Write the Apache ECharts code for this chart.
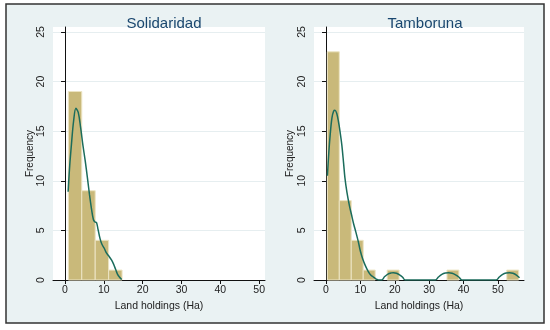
<!DOCTYPE html>
<html>
<head>
<meta charset="utf-8">
<script src="https://cdn.jsdelivr.net/npm/echarts@6/dist/echarts.min.js"></script>
<style>
html,body{margin:0;padding:0;background:#ffffff;}
#c{width:550px;height:330px;}
</style>
</head>
<body>
<div id="c"></div>
<script>
// ---- data ----
const panelTitles = ['Solidaridad', 'Tamboruna'];
const xTicks = [0, 10, 20, 30, 40, 50];
const yTicks = [0, 5, 10, 15, 20, 25];

const solEdges = [0.85, 4.31, 7.77, 11.23, 14.69];
const solCounts = [19, 9, 4, 1];

const tamEdges = [0.38, 3.86, 7.34, 10.82, 14.30, 17.78, 21.26, 24.74, 28.22, 31.70, 35.18, 38.66, 42.14, 45.62, 49.10, 52.58, 56.06];
const tamCounts = [23, 8, 4, 1, 0, 1, 0, 0, 0, 0, 1, 0, 0, 0, 0, 1];

const solDensity = [[0.8,8.9],[1.2,11.5],[1.7,13.9],[2.2,16.0],[2.8,17.3],[3.4,16.9],[4.0,15.4],[4.6,13.6],[5.2,12.0],[5.8,10.2],[6.3,8.6],[6.8,7.2],[7.3,6.1],[7.7,5.85],[8.1,5.8],[8.5,5.1],[9.0,4.2],[9.5,3.6],[10.1,3.2],[10.7,2.7],[11.4,2.35],[12.0,2.0],[12.5,1.6],[13.0,1.1],[13.5,0.6],[14.0,0.3],[14.6,0.05]];

const tamDensity = [[0.4,10.5],[0.8,12.8],[1.2,14.6],[1.7,16.3],[2.2,17.0],[2.6,17.1],[3.1,16.8],[3.6,16.0],[4.1,14.9],[4.6,13.6],[5.1,11.8],[5.5,10.3],[6.1,8.8],[6.8,7.5],[7.4,6.6],[8.0,5.7],[8.7,4.8],[9.4,3.85],[10.0,2.9],[10.7,2.1],[11.5,1.4],[12.3,0.85],[13.0,0.5],[13.8,0.3],[14.5,0.12],[15.3,0],[16.2,0],[17.0,0.32],[18.0,0.6],[19.0,0.72],[19.6,0.74],[20.5,0.68],[21.5,0.5],[22.3,0.28],[23.0,0],[31.8,0],[32.7,0.3],[33.7,0.56],[34.7,0.7],[35.7,0.74],[36.7,0.68],[37.7,0.52],[38.7,0.28],[39.6,0],[49.5,0],[50.4,0.3],[51.4,0.56],[52.4,0.7],[53.4,0.74],[54.4,0.68],[55.4,0.5],[56.3,0.22]];

// ---- build ----
function bins(edges, counts) {
  const out = [];
  for (let i = 0; i < counts.length; i++) {
    if (counts[i] > 0) out.push([edges[i], edges[i + 1], counts[i]]);
  }
  return out;
}

const FONT = '"Liberation Sans", Arial, sans-serif';
const BG = '#eaf2f3';
const BAR = '#c9b97a';
const LINE = '#1b6c5c';

function renderBar(params, api) {
  const p0 = api.coord([api.value(0), api.value(2)]);
  const p1 = api.coord([api.value(1), 0]);
  return {
    type: 'rect',
    shape: { x: p0[0], y: p0[1], width: p1[0] - p0[0], height: p1[1] - p0[1] },
    style: { fill: BAR, stroke: '#ece4c4', lineWidth: 1 }
  };
}

function xAxis(idx, min, max) {
  return {
    type: 'value', gridIndex: idx, min: min, max: max,
    name: 'Land holdings (Ha)', nameLocation: 'middle', nameGap: 15,
    nameTextStyle: { fontFamily: FONT, fontSize: 10.5, color: '#222' },
    axisLine: { show: true, onZero: false, lineStyle: { color: '#111', width: 1 } },
    axisTick: { show: true, length: 4, customValues: xTicks, lineStyle: { color: '#111' } },
    axisLabel: { customValues: xTicks, margin: 5, fontFamily: FONT, fontSize: 10.5, color: '#222' },
    splitLine: { show: false }
  };
}
function yAxis(idx, gap) {
  return {
    type: 'value', gridIndex: idx, min: 0, max: 25.5, interval: 5,
    name: 'Frequency', nameLocation: 'middle', nameGap: gap, nameRotate: 90,
    nameTextStyle: { fontFamily: FONT, fontSize: 10, color: '#222' },
    axisLine: { show: true, lineStyle: { color: '#111', width: 1 } },
    axisTick: { show: true, length: 4, customValues: yTicks, lineStyle: { color: '#111' } },
    axisLabel: { customValues: yTicks, rotate: 90, margin: 6, fontFamily: FONT, fontSize: 10.5, color: '#222' },
    splitLine: { show: true, lineStyle: { color: '#e6eef0', width: 1 } }
  };
}

const chart = echarts.init(document.getElementById('c'), null, { renderer: 'canvas' });
chart.setOption({
  backgroundColor: '#ffffff',
  animation: false,
  graphic: [{
    type: 'rect', z: -10, silent: true,
    shape: { x: 6, y: 4, width: 538, height: 319 },
    style: { fill: BG, stroke: '#333', lineWidth: 1.5 }
  }],
  title: [
    { text: panelTitles[0], left: 159, top: 11, textAlign: 'center',
      textStyle: { fontFamily: FONT, fontSize: 15, fontWeight: 'normal', color: '#1a476f' } },
    { text: panelTitles[1], left: 420, top: 11, textAlign: 'center',
      textStyle: { fontFamily: FONT, fontSize: 15, fontWeight: 'normal', color: '#1a476f' } }
  ],
  grid: [
    { left: 53, top: 27, width: 212, height: 253, show: true, backgroundColor: '#ffffff', borderWidth: 0 },
    { left: 314, top: 27, width: 210, height: 253, show: true, backgroundColor: '#ffffff', borderWidth: 0 }
  ],
  xAxis: [xAxis(0, -3.1, 51.5), xAxis(1, -3.5, 57.6)],
  yAxis: [yAxis(0, 16), yAxis(1, 19)],
  series: [
    { type: 'custom', xAxisIndex: 0, yAxisIndex: 0, renderItem: renderBar,
      encode: { x: [0, 1], y: 2 }, data: bins(solEdges, solCounts), z: 2 },
    { type: 'custom', xAxisIndex: 1, yAxisIndex: 1, renderItem: renderBar,
      encode: { x: [0, 1], y: 2 }, data: bins(tamEdges, tamCounts), z: 2 },
    { type: 'line', xAxisIndex: 0, yAxisIndex: 0, data: solDensity, smooth: 0.35,
      showSymbol: false, clip: true, lineStyle: { color: LINE, width: 1.5 }, z: 3 },
    { type: 'line', xAxisIndex: 1, yAxisIndex: 1, data: tamDensity, smooth: 0.35,
      showSymbol: false, clip: true, lineStyle: { color: LINE, width: 1.5 }, z: 3 }
  ]
});
</script>
</body>
</html>
